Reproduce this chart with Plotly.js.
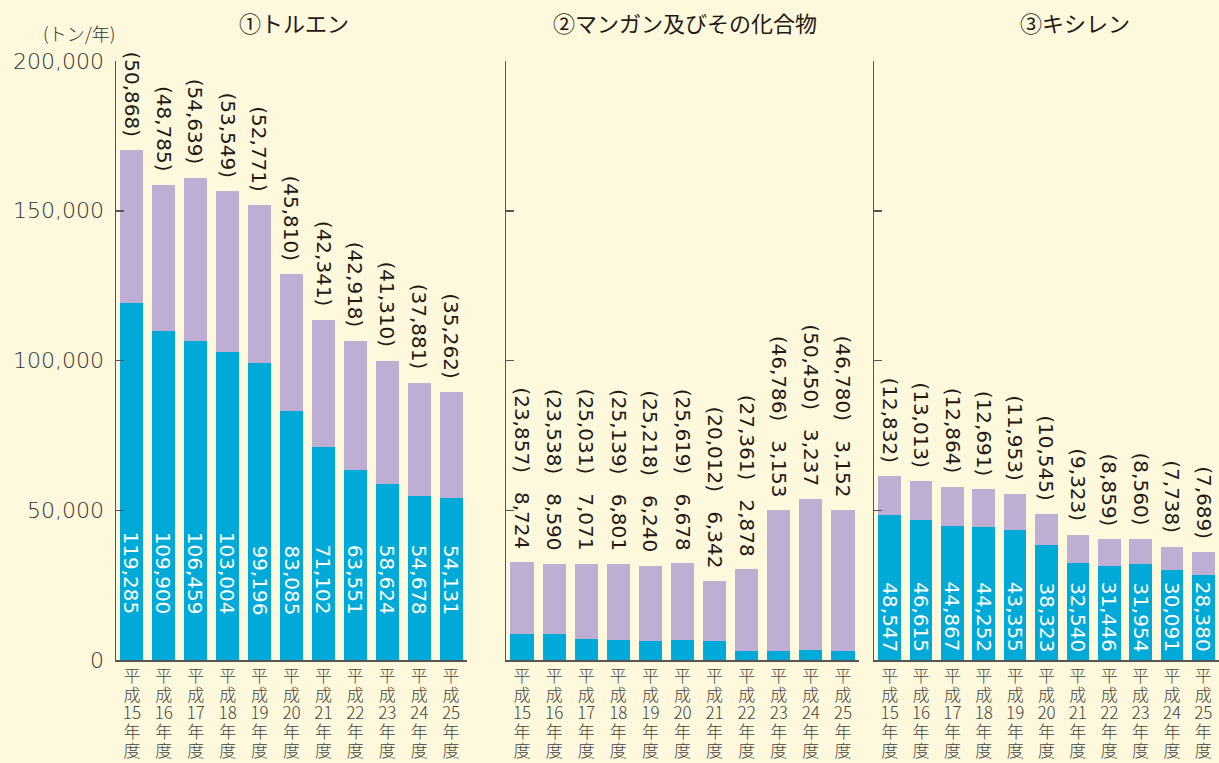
<!DOCTYPE html>
<html><head><meta charset="utf-8">
<script src="https://cdn.plot.ly/plotly-3.0.1.min.js"></script>
<style>html,body{margin:0;padding:0;background:#FEF8DC;}#chart{width:1219px;height:763px;}</style>
</head><body><div id="chart"></div>
<script>
const categories = ['平成15年度','平成16年度','平成17年度','平成18年度','平成19年度','平成20年度','平成21年度','平成22年度','平成23年度','平成24年度','平成25年度'];
const tickLines = [['平','成','15','年','度'],['平','成','16','年','度'],['平','成','17','年','度'],['平','成','18','年','度'],['平','成','19','年','度'],['平','成','20','年','度'],['平','成','21','年','度'],['平','成','22','年','度'],['平','成','23','年','度'],['平','成','24','年','度'],['平','成','25','年','度']];

const tolueneBlue   = [119285,109900,106459,103004,99196,83085,71102,63551,58624,54678,54131];
const toluenePurple = [50868,48785,54639,53549,52771,45810,42341,42918,41310,37881,35262];
const manganeseBlue   = [8724,8590,7071,6801,6240,6678,6342,2878,3153,3237,3152];
const manganesePurple = [23857,23538,25031,25139,25218,25619,20012,27361,46786,50450,46780];
const xyleneBlue   = [48547,46615,44867,44252,43355,38323,32540,31446,31954,30091,28380];
const xylenePurple = [12832,13013,12864,12691,11953,10545,9323,8859,8560,7738,7689];

const panelTitles = ['①トルエン','②マンガン及びその化合物','③キシレン'];
const unitLabel = '(トン/年)';
const yTickVals = [0,50000,100000,150000,200000];
const yTickText = ['0','50,000','100,000','150,000','200,000'];

const BLUE = '#00AAD8', PURPLE = '#BEAED4', BG = '#FEF8DC', TXT = '#231815', AX = '#555555';
const fmt = v => v.toLocaleString('en-US');
const numFont = {family:'DejaVu Sans', size:20, color:TXT};
const tickText = tickLines.map(lines => lines.map(s => '<span style="font-size:17px">' + s + '</span>').join('<br>'));

const panels = [
  {x:'x', y:'y', blue:tolueneBlue, purple:toluenePurple, combined:false, blueShift:43},
  {x:'x2', y:'y2', blue:manganeseBlue, purple:manganesePurple, combined:true},
  {x:'x3', y:'y3', blue:xyleneBlue, purple:xylenePurple, combined:false, blueShift:6}
];

const data = [];
const annotations = [];
panels.forEach(p => {
  data.push({type:'bar', x:categories, y:p.blue, xaxis:p.x, yaxis:p.y, marker:{color:BLUE}, hoverinfo:'skip', showlegend:false});
  data.push({type:'bar', x:categories, y:p.purple, xaxis:p.x, yaxis:p.y, marker:{color:PURPLE}, hoverinfo:'skip', showlegend:false});
  categories.forEach((c,i) => {
    const total = p.blue[i] + p.purple[i];
    const topText = p.combined ? '(' + fmt(p.purple[i]) + ')\u00a0\u00a0\u00a0' + fmt(p.blue[i]) : '(' + fmt(p.purple[i]) + ')';
    annotations.push({xref:p.x, yref:p.y, x:c, y:total, text:topText, showarrow:false, textangle:90,
      xanchor:'center', yanchor:'bottom', yshift:11, font:numFont});
    if (!p.combined) {
      annotations.push({xref:p.x, yref:p.y, x:c, y:0, text:fmt(p.blue[i]), showarrow:false, textangle:90,
        xanchor:'center', yanchor:'bottom', yshift:p.blueShift, font:Object.assign({}, numFont, {color:'#FFFFFF'})});
    }
  });
});

const titleFont = {family:'Noto Sans CJK JP', size:22, color:TXT};
annotations.push({xref:'paper', yref:'paper', x:294/1219, y:1.065, text:panelTitles[0], showarrow:false, xanchor:'center', yanchor:'middle', font:titleFont});
annotations.push({xref:'paper', yref:'paper', x:685/1219, y:1.065, text:panelTitles[1], showarrow:false, xanchor:'center', yanchor:'middle', font:titleFont});
annotations.push({xref:'paper', yref:'paper', x:1075/1219, y:1.065, text:panelTitles[2], showarrow:false, xanchor:'center', yanchor:'middle', font:titleFont});
annotations.push({xref:'paper', yref:'paper', x:79/1219, y:1.047, text:unitLabel, showarrow:false, xanchor:'center', yanchor:'middle', font:{family:'Noto Sans CJK JP', size:18, color:'#333333', weight:300}});

const xBase = {type:'category', showline:true, linecolor:AX, linewidth:1.5, ticks:'', showgrid:false, zeroline:false,
  tickmode:'array', tickvals:categories, ticktext:tickText, tickangle:0, ticklabelstandoff:3,
  tickfont:{family:'Noto Sans CJK JP', size:14.4, color:'#444444', weight:300}, fixedrange:true};
const yBase = {range:[0,200000], showline:true, linecolor:AX, linewidth:1.5, ticks:'inside', ticklen:8, tickcolor:AX, tickwidth:1.5,
  showgrid:false, zeroline:false, tickmode:'array', tickvals:yTickVals, ticktext:yTickText, fixedrange:true};

const layout = {
  width:1219, height:763, paper_bgcolor:BG, plot_bgcolor:BG,
  margin:{l:0, r:0, t:61, b:103}, barmode:'stack', bargap:0.28, showlegend:false,
  xaxis: Object.assign({}, xBase, {domain:[116/1219, 467/1219], anchor:'y'}),
  xaxis2: Object.assign({}, xBase, {domain:[506/1219, 859/1219], anchor:'y2'}),
  xaxis3: Object.assign({}, xBase, {domain:[874/1219, 1], anchor:'y3'}),
  yaxis: Object.assign({}, yBase, {anchor:'x', showticklabels:true, ticklabelstandoff:6,
    tickfont:{family:'DejaVu Sans', size:22, color:'#333333', weight:300}}),
  yaxis2: Object.assign({}, yBase, {anchor:'x2', showticklabels:false}),
  yaxis3: Object.assign({}, yBase, {anchor:'x3', showticklabels:false}),
  annotations: annotations
};

Plotly.newPlot('chart', data, layout, {displayModeBar:false, staticPlot:true});
</script></body></html>
